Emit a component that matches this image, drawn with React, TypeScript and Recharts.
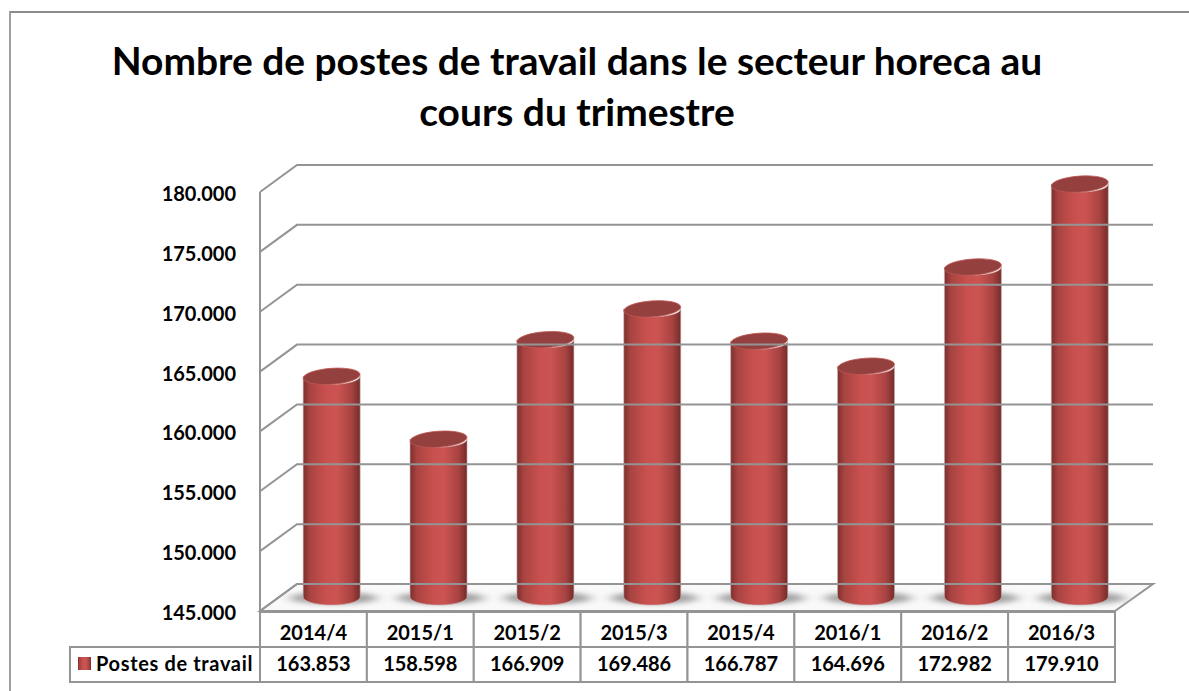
import React from "react";
import { BarChart, Bar, XAxis, YAxis, Customized } from "recharts";

const categories = ["2014/4", "2015/1", "2015/2", "2015/3", "2015/4", "2016/1", "2016/2", "2016/3"];
const values = [163853, 158598, 166909, 169486, 166787, 164696, 172982, 179910];
const yTicks = [145000, 150000, 155000, 160000, 165000, 170000, 175000, 180000];
const seriesName = "Postes de travail";
const titleLines = ["Nombre de postes de travail dans le secteur horeca au", "cours du trimestre"];

const fmt = (v: number) => v.toLocaleString("en-US").replace(",", ".");
const data = categories.map((c, i) => ({ c, v: values[i] }));
const FONT = "Lato, Carlito, sans-serif";
const GRID = "#949494";
const DX = 37, DY = 27;
const L = 260, R = 1115, T = 192, B = 611;

const YTick = (p: any) => {
  const y = p.y;
  return (
    <g>
      <polyline points={`${L},${y} ${L + DX},${y - DY} ${R + 38},${y - DY}`} fill="none" stroke={GRID} strokeWidth={2} />
      <text x={236} y={y + 9} textAnchor="end" fontFamily={FONT} fontWeight={700} fontSize={20} fill="#000">{fmt(p.payload.value)}</text>
    </g>
  );
};

const XTick = (p: any) => {
  const i = p.index;
  const w = (R - L) / categories.length;
  const x0 = L + i * w;
  return (
    <g>
      <rect x={x0} y={612} width={w} height={35} fill="#fff" stroke={GRID} strokeWidth={2} />
      <rect x={x0} y={647} width={w} height={35} fill="#fff" stroke={GRID} strokeWidth={2} />
      <text x={x0 + w / 2} y={640} textAnchor="middle" fontFamily={FONT} fontWeight={700} fontSize={20} fill="#000">{p.payload.value}</text>
      <text x={x0 + w / 2} y={671} textAnchor="middle" fontFamily={FONT} fontWeight={700} fontSize={20} fill="#000">{fmt(values[i])}</text>
    </g>
  );
};

const Cylinder = (p: any) => {
  const cx = p.x + p.width / 2 + 18;
  const rx = 28.5, ry = 8;
  const top = p.y - 9;
  const base = 597;
  const body = `M${cx - rx},${top} L${cx - rx},${base} A${rx},${ry} 0 0 0 ${cx + rx},${base} L${cx + rx},${top} A${rx},${ry} 0 0 1 ${cx - rx},${top} Z`;
  return (
    <g>
      <ellipse cx={cx + 2} cy={base + 1} rx={rx + 26} ry={7.5} fill="url(#shadow)" filter="url(#blur)" />
      <path d={body} fill="url(#cyl)" stroke="#c9b5b5" strokeWidth={0.6} />
      <ellipse cx={cx} cy={top} rx={rx} ry={ry} fill="#93403e" stroke="#bf5652" strokeWidth={0.8} transform={`rotate(-4 ${cx} ${top})`} />
    </g>
  );
};

const Frame = () => (
  <g>
    <defs>
      <linearGradient id="cyl" x1="0" x2="1" y1="0" y2="0">
        <stop offset="0" stopColor="#7c2f2e" />
        <stop offset="0.12" stopColor="#a84441" />
        <stop offset="0.4" stopColor="#c9504e" />
        <stop offset="0.6" stopColor="#cb5452" />
        <stop offset="0.85" stopColor="#a84341" />
        <stop offset="1" stopColor="#742b2a" />
      </linearGradient>
      <radialGradient id="shadow">
        <stop offset="0" stopColor="#8c8c8c" />
        <stop offset="0.7" stopColor="#a8a8a8" />
        <stop offset="1" stopColor="#ddd" stopOpacity={0} />
      </radialGradient>
      <filter id="blur" x="-20%" y="-50%" width="140%" height="200%">
        <feGaussianBlur stdDeviation="2.5" />
      </filter>
    </defs>
    <polygon points={`${L},${B} ${L + DX},${B - DY} ${R + 38},${B - DY} ${R},${B}`} fill="#f9f9f9" stroke={GRID} strokeWidth={2} />
    <line x1={L} x2={L} y1={T} y2={B} stroke={GRID} strokeWidth={2} />
    <rect x={70} y={647} width={L - 70} height={35} fill="#fff" stroke={GRID} strokeWidth={2} />
    <rect x={78} y={657} width={13} height={13} fill="url(#cyl)" />
    <text x={96} y={671} fontFamily={FONT} fontWeight={700} fontSize={20} letterSpacing={0.65} fill="#000">{seriesName}</text>
    <text x={577} y={75} textAnchor="middle" fontFamily={FONT} fontWeight={700} fontSize={38.9} fill="#000">{titleLines[0]}</text>
    <text x={577} y={126} textAnchor="middle" fontFamily={FONT} fontWeight={700} fontSize={38.9} fill="#000">{titleLines[1]}</text>
  </g>
);

export default function App() {
  return (
    <div style={{ position: "absolute", left: 0, top: 0, width: 1189, height: 691, background: "#fff", overflow: "hidden" }}>
      <div style={{ position: "absolute", left: 9, top: 11, width: 1180, height: 680, borderTop: "2px solid #8c8c8c", borderLeft: "2px solid #a0a0a0", boxSizing: "border-box" }} />
      <BarChart
        width={1189}
        height={691}
        data={data}
        margin={{ top: T, left: 0, right: 1189 - R, bottom: 0 }}
        barCategoryGap="46%"
        style={{ position: "absolute", left: 0, top: 0 }}
      >
        <Customized component={Frame} />
        <XAxis dataKey="c" axisLine={false} tickLine={false} tick={<XTick />} height={691 - B} interval={0} />
        <YAxis domain={[145000, 180000]} ticks={yTicks} axisLine={false} tickLine={false} tick={<YTick />} width={L} />
        <Bar dataKey="v" name={seriesName} shape={<Cylinder />} isAnimationActive={false} />
      </BarChart>
    </div>
  );
}
